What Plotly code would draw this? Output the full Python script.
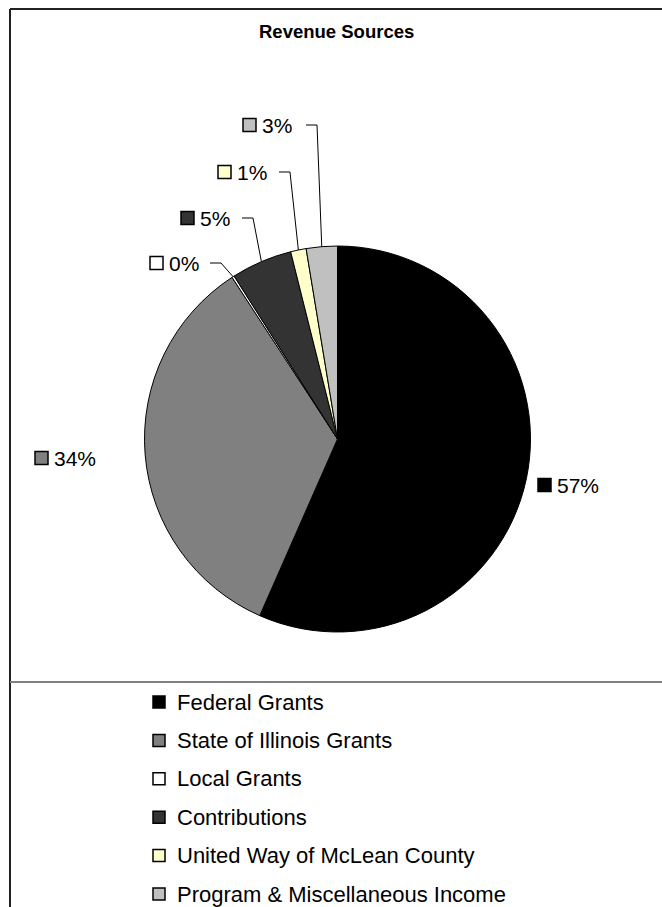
import math
import plotly.graph_objects as go

# ---------------- data ----------------
categories = [
    "Federal Grants",
    "State of Illinois Grants",
    "Local Grants",
    "Contributions",
    "United Way of McLean County",
    "Program & Miscellaneous Income",
]
shares = [56.6, 34.2, 0.2, 5.1, 1.3, 2.6]
slice_colors = ["#000000", "#808080", "#FFFFFF", "#333333", "#FFFFCC", "#C0C0C0"]
title_text = "Revenue Sources"

# ---------------- layout (pixels) ----------------
W, H = 662, 907
CX, CY, R = 337.5, 439, 193
FONT = "Liberation Sans, Arial, sans-serif"
LABEL_SIZE = 21
LEGEND_SIZE = 22
SQ = 13

# data-label placement: (square left x, centre y, leader start x or None)
label_layout = [
    (538, 485, None),
    (35, 458, None),
    (150, 263, 210),
    (181, 218, 242),
    (218, 172, 279),
    (243, 125, 306),
]
legend_sq_x, legend_text_x = 153, 175
legend_y0, legend_dy = 702, 38.4


def px(x):
    return x / W


def py(y):
    return 1 - y / H


fig = go.Figure(
    go.Pie(
        labels=categories,
        values=shares,
        sort=False,
        direction="clockwise",
        rotation=0,
        marker=dict(colors=slice_colors, line=dict(color="#000000", width=1)),
        textinfo="none",
        showlegend=False,
        hoverinfo="label+percent",
        domain=dict(x=[px(CX - R), px(CX + R)], y=[py(CY + R), py(CY - R)]),
    )
)

shapes = []
annotations = []

# chart border & legend separator
line_col = "#222222"
shapes.append(dict(type="line", xref="paper", yref="paper", x0=px(10), x1=1.01, y0=py(9), y1=py(9),
                   line=dict(color=line_col, width=2)))
shapes.append(dict(type="line", xref="paper", yref="paper", x0=px(10), x1=px(10), y0=py(9), y1=-0.01,
                   line=dict(color=line_col, width=2)))
shapes.append(dict(type="line", xref="paper", yref="paper", x0=px(10), x1=1.01, y0=py(682), y1=py(682),
                   line=dict(color="#808080", width=2)))

# title
annotations.append(dict(text="<b>%s</b>" % title_text, xref="paper", yref="paper", x=px(336), y=py(32),
                        xanchor="center", yanchor="middle", showarrow=False,
                        font=dict(family=FONT, size=18.5, color="#000000")))

total = sum(shares)
cum = 0.0
for i, v in enumerate(shares):
    mid = (cum + v / 2) / total * 2 * math.pi
    cum += v
    ax = CX + R * math.sin(mid)
    ay = CY - R * math.cos(mid)
    sx, sy, lx = label_layout[i]
    pct = "%d%%" % round(v / total * 100)
    shapes.append(dict(type="rect", xref="paper", yref="paper",
                       x0=px(sx), x1=px(sx + SQ), y0=py(sy - SQ / 2), y1=py(sy + SQ / 2),
                       fillcolor=slice_colors[i], line=dict(color="#000000", width=1.5)))
    annotations.append(dict(text=pct, xref="paper", yref="paper", x=px(sx + SQ + 4), y=py(sy),
                            xanchor="left", yanchor="middle", showarrow=False,
                            font=dict(family=FONT, size=LABEL_SIZE, color="#000000")))
    if lx is not None:
        shapes.append(dict(type="path", xref="paper", yref="paper",
                           path="M %f %f L %f %f L %f %f" % (px(lx), py(sy), px(lx + 11), py(sy), px(ax), py(ay)),
                           line=dict(color="#000000", width=1)))

# legend
for i, name in enumerate(categories):
    y = legend_y0 + i * legend_dy
    shapes.append(dict(type="rect", xref="paper", yref="paper",
                       x0=px(legend_sq_x), x1=px(legend_sq_x + SQ - 1), y0=py(y - SQ / 2 + 0.5), y1=py(y + SQ / 2 - 0.5),
                       fillcolor=slice_colors[i], line=dict(color="#000000", width=1.5)))
    annotations.append(dict(text=name, xref="paper", yref="paper", x=px(legend_text_x), y=py(y),
                            xanchor="left", yanchor="middle", showarrow=False,
                            font=dict(family=FONT, size=LEGEND_SIZE, color="#000000")))

fig.update_layout(
    width=W, height=H,
    margin=dict(l=0, r=0, t=0, b=0),
    paper_bgcolor="#FFFFFF", plot_bgcolor="#FFFFFF",
    shapes=shapes, annotations=annotations,
    showlegend=False,
)

fig.write_html("out.html", config={"displayModeBar": False},
               post_script="document.body.style.margin='0';document.body.style.overflow='hidden';")
